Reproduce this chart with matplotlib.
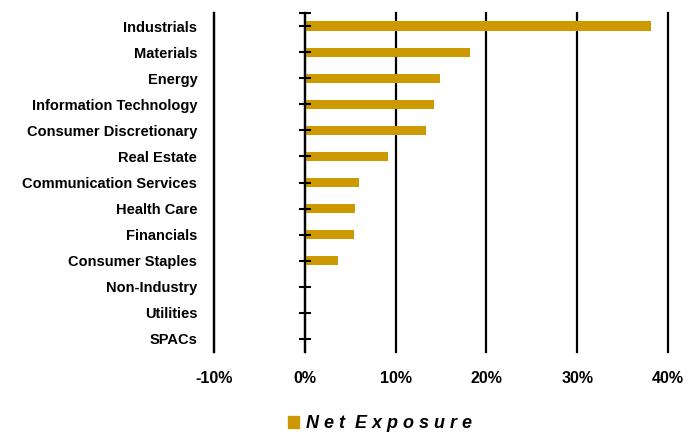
import matplotlib
matplotlib.use("Agg")
import matplotlib.pyplot as plt
from matplotlib.patches import Patch

sectors = ["Industrials", "Materials", "Energy", "Information Technology",
           "Consumer Discretionary", "Real Estate", "Communication Services",
           "Health Care", "Financials", "Consumer Staples", "Non-Industry",
           "Utilities", "SPACs"]
net_exposure = [38.1, 18.2, 14.9, 14.2, 13.3, 9.2, 6.0, 5.5, 5.4, 3.7, 0.0, 0.0, 0.0]
xticks = [-10, 0, 10, 20, 30, 40]
series_name = "Net Exposure"

gold = "#CC9A00"
plt.rcParams["font.family"] = ["Liberation Sans", "DejaVu Sans"]

fig = plt.figure(figsize=(6.88, 4.34), dpi=100)
ax = fig.add_axes([214 / 688, 1 - 352 / 434, 454 / 688, 339 / 434])

ypos = list(range(len(sectors)))
ax.barh(ypos, net_exposure, height=0.35, color=gold, zorder=3)
ax.set_ylim(len(sectors) - 0.5, -0.5)
ax.set_xlim(-10, 40)

ax.set_xticks(xticks)
ax.set_xticklabels([f"{t}%" for t in xticks], fontsize=11.5, fontweight="bold")
ax.tick_params(axis="x", length=0, pad=14)
ax.set_yticks(ypos)
ax.set_yticklabels(sectors, fontsize=10.5, fontweight="bold")
ax.tick_params(axis="y", length=0, pad=12)

ax.xaxis.grid(True, color="black", linewidth=1.6, zorder=1)
for gl in ax.get_xgridlines():
    gl.set_clip_on(False)
for side in ["top", "right", "bottom"]:
    ax.spines[side].set_visible(False)
ax.spines["left"].set_linewidth(1.6)

# category axis crossing at 0%
sec = ax.secondary_yaxis(0.2)
sec.set_zorder(5)
sec.set_yticks([-0.5] + ypos)
sec.set_yticklabels([])
sec.tick_params(direction="inout", length=8, width=1.5)
sec.spines["left"].set_linewidth(1.6)

spaced = "  ".join(" ".join(w) for w in series_name.split())
fig.legend(handles=[Patch(color=gold, label=spaced)], loc="center",
           bbox_to_anchor=(380 / 688, 1 - 424 / 434), frameon=False,
           handlelength=0.65, handleheight=0.65, handletextpad=0.4,
           prop={"size": 13, "weight": "bold", "style": "italic"})

fig.savefig("out.png", dpi=100)
